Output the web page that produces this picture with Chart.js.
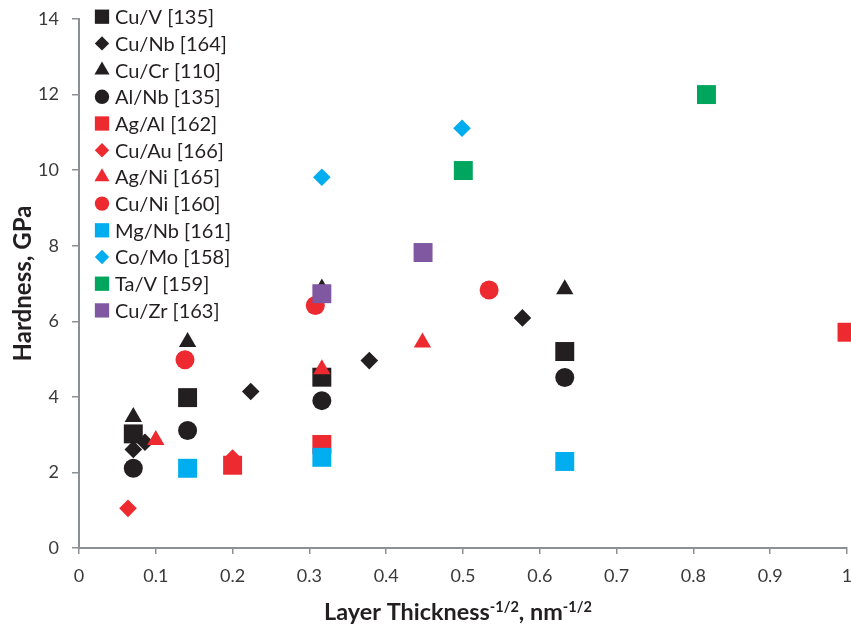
<!DOCTYPE html>
<html>
<head>
<meta charset="utf-8">
<script src="https://cdn.jsdelivr.net/npm/chart.js@4.4.1/dist/chart.umd.min.js"></script>
<style>
html,body{margin:0;padding:0;background:#fff;}
#wrap{width:851px;height:626px;position:relative;}
canvas{display:block;}
</style>
</head>
<body>
<div id="wrap"><canvas id="c" width="851" height="626"></canvas></div>
<script>
// ---- data ----
const seriesNames = ["Cu/V [135]","Cu/Nb [164]","Cu/Cr [110]","Al/Nb [135]","Ag/Al [162]","Cu/Au [166]",
                     "Ag/Ni [165]","Cu/Ni [160]","Mg/Nb [161]","Co/Mo [158]","Ta/V [159]","Cu/Zr [163]"];
const cuV_x  = [0.0707, 0.1414, 0.3162, 0.6325];
const cuV_y  = [3.02, 3.98, 4.52, 5.20];
const cuNb_x = [0.0707, 0.0859, 0.2236, 0.3780, 0.5774];
const cuNb_y = [2.61, 2.80, 4.14, 4.96, 6.09];
const cuCr_x = [0.0707, 0.1414, 0.3162, 0.6325];
const cuCr_y = [3.47, 5.45, 6.87, 6.85];
const alNb_x = [0.0707, 0.1414, 0.3162, 0.6325];
const alNb_y = [2.11, 3.11, 3.90, 4.51];
const agAl_x = [0.2000, 0.3162, 1.0000];
const agAl_y = [2.19, 2.74, 5.71];
const cuAu_x = [0.0638, 0.2000];
const cuAu_y = [1.05, 2.38];
const agNi_x = [0.1000, 0.3162, 0.4472];
const agNi_y = [2.86, 4.73, 5.44];
const cuNi_x = [0.1380, 0.3077, 0.5340];
const cuNi_y = [4.98, 6.42, 6.83];
const mgNb_x = [0.1414, 0.3162, 0.6325];
const mgNb_y = [2.11, 2.40, 2.29];
const coMo_x = [0.3162, 0.4987];
const coMo_y = [9.81, 11.11];
const taV_x  = [0.5004, 0.8170];
const taV_y  = [9.99, 12.00];
const cuZr_x = [0.3162, 0.4480];
const cuZr_y = [6.73, 7.82];
const xTickValues = [0,0.1,0.2,0.3,0.4,0.5,0.6,0.7,0.8,0.9,1];
const yTickValues = [0,2,4,6,8,10,12,14];

const allX = [cuV_x,cuNb_x,cuCr_x,alNb_x,agAl_x,cuAu_x,agNi_x,cuNi_x,mgNb_x,coMo_x,taV_x,cuZr_x];
const allY = [cuV_y,cuNb_y,cuCr_y,alNb_y,agAl_y,cuAu_y,agNi_y,cuNi_y,mgNb_y,coMo_y,taV_y,cuZr_y];

// ---- styles ----
const BLACK='#231f20', RED='#ec2a30', CYAN='#00aeef', GREEN='#00a65d', PURPLE='#7f58a1';
const colors = [BLACK,BLACK,BLACK,BLACK,RED,RED,RED,RED,CYAN,CYAN,GREEN,PURPLE];
const shapes = ['rect','rectRot','triangle','circle','rect','rectRot','triangle','circle','rect','rectRot','rect','rect'];
const plotRadius = {rect:13.4, rectRot:8.8, triangle:10, circle:9.5};
const legendRadius = {rect:10.1, rectRot:7.2, triangle:8.7, circle:7.2};
const AXIS='#8b9096';
const FONT='Lato, "Open Sans", sans-serif';

function fitSize(text, weight, target){
  const c=document.createElement('canvas').getContext('2d');
  c.font = weight+' 100px '+FONT;
  return 100*target/c.measureText(text).width;
}
const legendSize = Math.min(20, fitSize('Cu/V [135]','normal',100));
const yTitleSize = fitSize('Hardness, GPa','bold',156);
const tickSize = 18;

const datasets = seriesNames.map((name,i)=>({
  label:name,
  data: allX[i].map((x,k)=>({x:x, y:allY[i][k]})),
  pointStyle: shapes[i],
  pointRadius: plotRadius[shapes[i]],
  pointHoverRadius: plotRadius[shapes[i]],
  backgroundColor: colors[i],
  borderColor: colors[i],
  borderWidth: 0,
  showLine:false,
  clip:false,
  order: seriesNames.length - i
}));

const legendPlugin = {
  id:'insideLegend',
  afterDraw(chart){
    const ctx=chart.ctx;
    ctx.save();
    seriesNames.forEach((n,i)=>{
      const y = 16.7 + i*26.7;
      ctx.fillStyle=colors[i]; ctx.strokeStyle=colors[i];
      Chart.helpers.drawPoint(ctx,{pointStyle:shapes[i],radius:legendRadius[shapes[i]],rotation:0,borderWidth:0},102,y);
      ctx.fillStyle=BLACK;
      ctx.font = legendSize+'px '+FONT;
      ctx.textBaseline='middle'; ctx.textAlign='left';
      ctx.fillText(n,115,y+1);
    });
    ctx.restore();
  }
};

const xTitlePlugin = {
  id:'xTitle',
  afterDraw(chart){
    const ctx=chart.ctx;
    const parts=[['Layer Thickness',false],['-1/2',true],[', nm',false],['-1/2',true]];
    function widthAt(s){
      let w=0;
      parts.forEach(p=>{ctx.font='bold '+(p[1]?s*0.62:s)+'px '+FONT; w+=ctx.measureText(p[0]).width;});
      return w;
    }
    const size = 100*268/widthAt(100);
    const total = widthAt(size);
    let x = 458 - total/2;
    const base = 619.5;
    ctx.save();
    ctx.fillStyle=BLACK; ctx.textBaseline='alphabetic'; ctx.textAlign='left';
    parts.forEach(p=>{
      const s = p[1]?size*0.62:size;
      ctx.font='bold '+s+'px '+FONT;
      ctx.fillText(p[0], x, p[1]? base-size*0.33 : base);
      x += ctx.measureText(p[0]).width;
    });
    ctx.restore();
  }
};

new Chart(document.getElementById('c'),{
  type:'scatter',
  data:{datasets},
  plugins:[legendPlugin,xTitlePlugin],
  options:{
    responsive:false,
    animation:false,
    devicePixelRatio:1,
    events:[],
    layout:{autoPadding:false, padding:{left:0,top:19,right:4,bottom:0}},
    plugins:{legend:{display:false},tooltip:{enabled:false},title:{display:false}},
    scales:{
      x:{
        type:'linear', min:0, max:1,
        afterBuildTicks(s){ s.ticks = xTickValues.map(v=>({value:v})); },
        afterFit(s){ s.height = 78; s.paddingLeft = 0; s.paddingRight = 0; },
        ticks:{ font:{family:FONT,size:tickSize}, color:'#3a3a3a', padding:11, maxRotation:0, autoSkip:false,
                callback:(v)=>String(Number(v.toFixed(1))) },
        grid:{ drawOnChartArea:false, drawTicks:true, tickLength:6, color:AXIS, tickColor:AXIS, lineWidth:1.5 },
        border:{ color:AXIS, width:2 }
      },
      y:{
        type:'linear', min:0, max:14,
        afterBuildTicks(s){ s.ticks = yTickValues.map(v=>({value:v})); },
        afterFit(s){ s.width = 79; s.paddingTop = 0; s.paddingBottom = 0; },
        ticks:{ font:{family:FONT,size:tickSize}, color:'#3a3a3a', padding:13 },
        grid:{ drawOnChartArea:false, drawTicks:true, tickLength:7, color:AXIS, tickColor:AXIS, lineWidth:1.5 },
        border:{ color:AXIS, width:2 },
        title:{ display:true, text:'Hardness, GPa', color:BLACK,
                font:{family:FONT, size:yTitleSize, weight:'bold', lineHeight:1.2},
                padding:{top:Math.max(0, 23 - yTitleSize*0.6), bottom:0} }
      }
    }
  }
});
</script>
</body>
</html>
